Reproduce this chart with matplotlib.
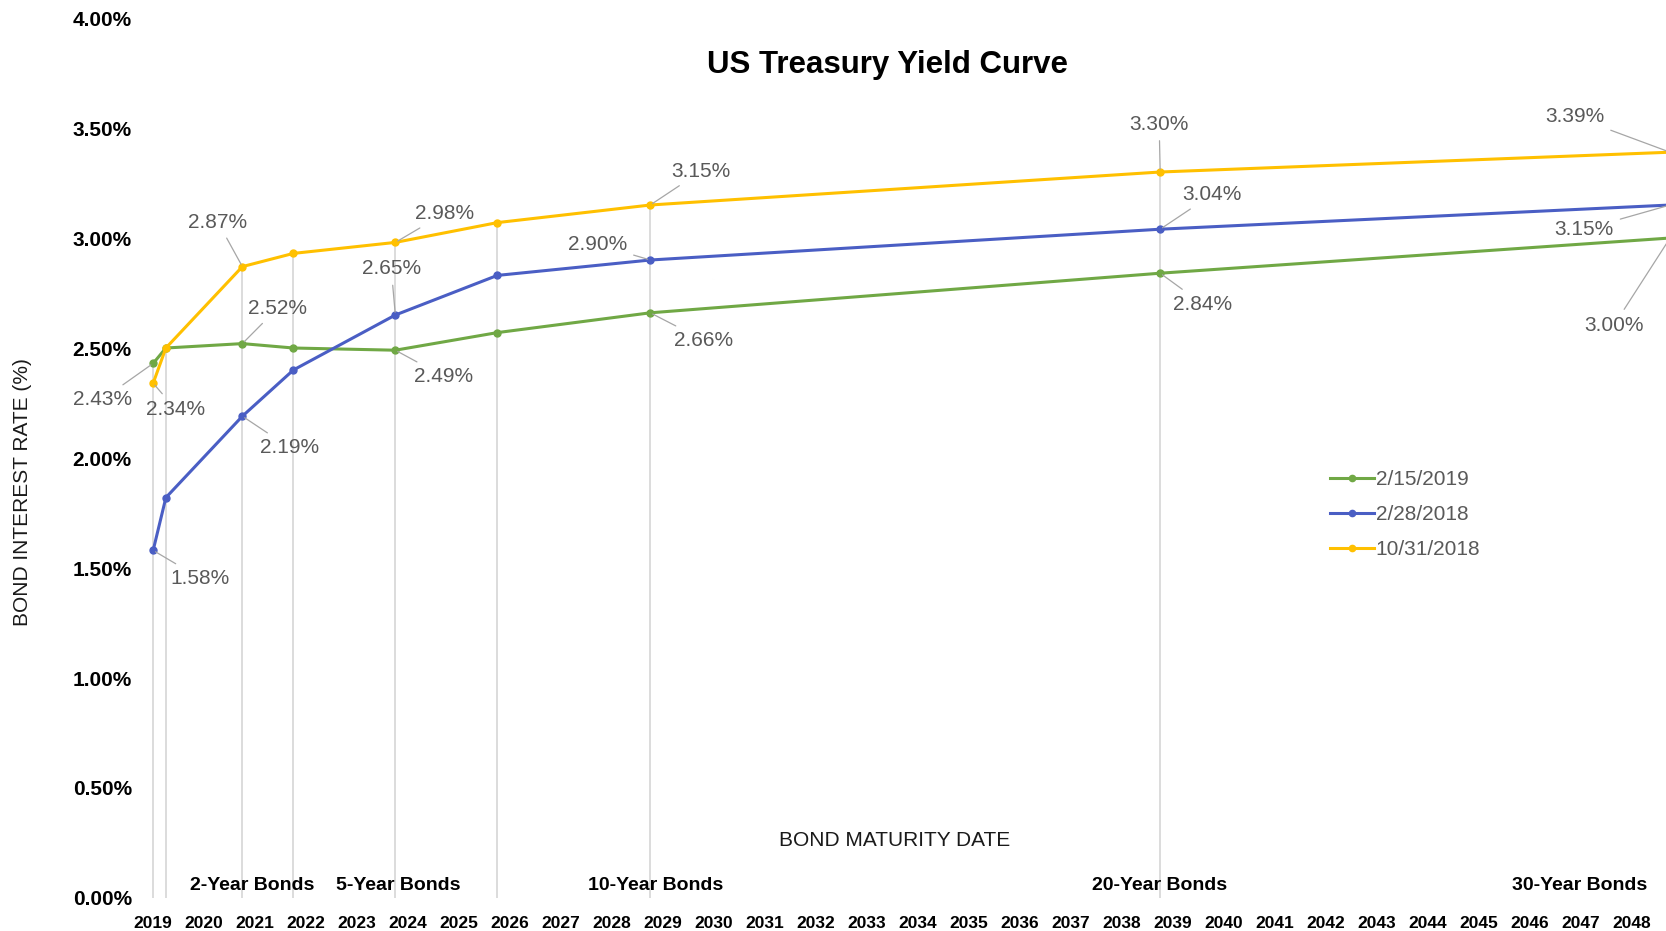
import matplotlib
matplotlib.use("Agg")
import matplotlib.pyplot as plt

# maturity positions on the date axis (fractional years) and yields in %
maturity = [2019.0, 2019.25, 2020.75, 2021.75, 2023.75, 2025.75, 2028.75, 2038.75, 2048.75]
yield_feb2019 = [2.43, 2.50, 2.52, 2.50, 2.49, 2.57, 2.66, 2.84, 3.00]
yield_feb2018 = [1.58, 1.82, 2.19, 2.40, 2.65, 2.83, 2.90, 3.04, 3.15]
yield_oct2018 = [2.34, 2.50, 2.87, 2.93, 2.98, 3.07, 3.15, 3.30, 3.39]
series_names = ["2/15/2019", "2/28/2018", "10/31/2018"]

years = list(range(2019, 2049))
bond_groups = ["2-Year Bonds", "5-Year Bonds", "10-Year Bonds", "20-Year Bonds", "30-Year Bonds"]
bond_group_x = [2020.94, 2023.81, 2028.85, 2038.73, 2046.98]

# which points get a data label: (series index, point index, label x, label y)
labels = [
    (0, 0, 2018.0, 2.266), (2, 0, 2019.44, 2.222), (1, 0, 2019.92, 1.454),
    (1, 2, 2021.67, 2.048), (0, 2, 2021.44, 2.681), (2, 2, 2020.27, 3.072),
    (1, 4, 2023.67, 2.86), (2, 4, 2024.71, 3.111), (0, 4, 2024.69, 2.372),
    (1, 6, 2027.71, 2.971), (2, 6, 2029.75, 3.304), (0, 6, 2029.79, 2.536),
    (2, 7, 2038.73, 3.517), (1, 7, 2039.77, 3.198), (0, 7, 2039.58, 2.70),
    (2, 8, 2046.875, 3.551), (1, 8, 2047.06, 3.039), (0, 8, 2047.65, 2.604),
]

colors = ["#70A845", "#4A5EC4", "#FFC000"]
all_series = [yield_feb2019, yield_feb2018, yield_oct2018]

plt.rcParams['font.family'] = ['Liberation Sans', 'DejaVu Sans']
narrow = ['Liberation Sans Narrow', 'Liberation Sans', 'DejaVu Sans']

fig = plt.figure(figsize=(16.66, 9.31), dpi=100)
ax = fig.add_axes([0.0858, 0.03545, 0.9142, 0.9452])

# drop lines from the highest point down to the axis
tops = [max(v) for v in zip(*all_series)]
ax.vlines(maturity, 0, tops, color='#d6d6d6', lw=1.2, zorder=1)

lines = []
for vals, col, name in zip(all_series, colors, series_names):
    ln, = ax.plot(maturity, vals, color=col, lw=2.2, marker='o', markersize=5,
                  label=name, zorder=3, clip_on=True)
    lines.append(ln)

for s, i, tx, ty in labels:
    val = all_series[s][i]
    ax.annotate(f"{val:.2f}%", xy=(maturity[i], val), xytext=(tx, ty),
                ha='center', va='center', fontsize=15, color='#595959',
                annotation_clip=False, zorder=4,
                arrowprops=dict(arrowstyle='-', color='#a6a6a6', lw=0.9,
                                shrinkA=3, shrinkB=2))

ax.set_xlim(2018.8, 2048.67)
ax.set_ylim(0, 4)
ax.set_xticks(years)
ax.set_xticklabels([str(y) for y in years], fontsize=12.5, fontweight='bold',
                   family=narrow)
ax.set_yticks([0, 0.5, 1, 1.5, 2, 2.5, 3, 3.5, 4])
ax.set_yticklabels([f"{t:.2f}%" for t in ax.get_yticks()], fontsize=15,
                   fontweight='bold')
ax.tick_params(axis='x', length=0, pad=13)
ax.tick_params(axis='y', length=0, pad=8)
for sp in ax.spines.values():
    sp.set_visible(False)

for name, x in zip(bond_groups, bond_group_x):
    ax.text(x, 0.055, name, ha='center', va='center', fontsize=14,
            fontweight='bold', family=narrow)
ax.text(2033.54, 0.26, "BOND MATURITY DATE", ha='center', va='center',
        fontsize=15, color='#1a1a1a')

fig.text(0.533, 0.930, "US Treasury Yield Curve", ha='center', va='center',
         fontsize=22.5, fontweight='bold')
fig.text(0.0138, 0.4715, "BOND INTEREST RATE (%)", rotation=90, ha='center',
         va='center', fontsize=15, color='#1a1a1a')

fig.legend(handles=lines, loc='upper left', bbox_to_anchor=(0.792, 0.5064),
           frameon=False, fontsize=15, labelcolor='#595959', borderpad=0,
           handlelength=2.1, handletextpad=0.1, labelspacing=0.77,
           markerscale=0.9)

fig.savefig("out.png", dpi=100)
